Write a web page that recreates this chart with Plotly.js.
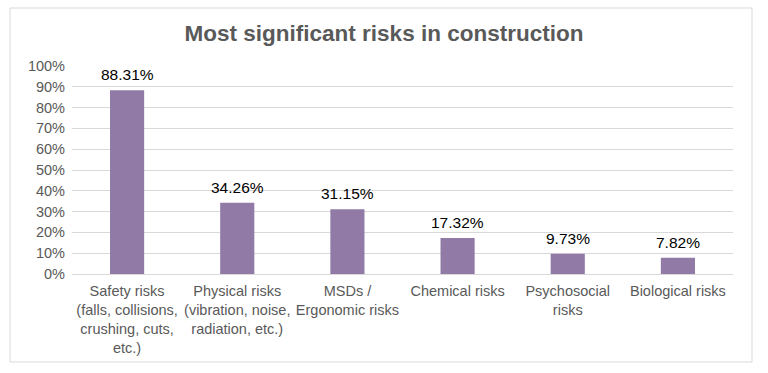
<!DOCTYPE html>
<html>
<head>
<meta charset="utf-8">
<script src="https://cdn.plot.ly/plotly-3.0.1.min.js"></script>
<style>html,body{margin:0;padding:0;background:#fff;}#chart{width:768px;height:373px;}</style>
</head>
<body>
<div id="chart"></div>
<script>
const categories = [
  "Safety risks<br>(falls, collisions,<br>crushing, cuts,<br>etc.)",
  "Physical risks<br>(vibration, noise,<br>radiation, etc.)",
  "MSDs /<br>Ergonomic risks",
  "Chemical risks",
  "Psychosocial<br>risks",
  "Biological risks"
];
const values = [0.8831, 0.3426, 0.3115, 0.1732, 0.0973, 0.0782];
const labels = ["88.31%", "34.26%", "31.15%", "17.32%", "9.73%", "7.82%"];
const yTicks = [0, 0.1, 0.2, 0.3, 0.4, 0.5, 0.6, 0.7, 0.8, 0.9, 1.0];
const yTickText = ["0%", "10%", "20%", "30%", "40%", "50%", "60%", "70%", "80%", "90%", "100%"];

const L = 72, R = 35, T = 66, B = 99, W = 768, H = 373;
const pw = W - L - R, ph = H - T - B;
const px = v => (v - L) / pw;
const py = v => (H - B - v) / ph;
const FONT = "Liberation Sans, Arial, sans-serif";

const trace = {
  type: "bar",
  x: categories,
  y: values,
  marker: {color: "#917BA6"},
  width: 0.31,
  hoverinfo: "none"
};

const annotations = categories.map((c, i) => ({
  x: c, y: values[i], xref: "x", yref: "y",
  text: labels[i], showarrow: false,
  yanchor: "bottom", yshift: 5,
  font: {family: FONT, size: 15.5, color: "#000000"}
}));

const layout = {
  width: W, height: H,
  margin: {l: L, r: R, t: T, b: B},
  paper_bgcolor: "#ffffff",
  plot_bgcolor: "#ffffff",
  showlegend: false,
  title: {
    text: "<b>Most significant risks in construction</b>",
    font: {family: FONT, size: 22.5, color: "#595959"},
    x: 0.5, xanchor: "center", y: 0.912, yanchor: "middle"
  },
  xaxis: {
    type: "category",
    tickfont: {family: FONT, size: 14.5, color: "#595959"},
    showline: true, linecolor: "#d9d9d9", linewidth: 1,
    ticks: "", showgrid: false, fixedrange: true,
    ticklabelstandoff: 4
  },
  yaxis: {
    range: [0, 1],
    tickvals: yTicks,
    ticktext: yTickText,
    tickfont: {family: FONT, size: 14.5, color: "#595959"},
    showgrid: true, gridcolor: "#d9d9d9", gridwidth: 1,
    zeroline: false, showline: false, ticks: "",
    ticklabelstandoff: 6,
    fixedrange: true
  },
  annotations: annotations,
  shapes: [{
    type: "rect", xref: "paper", yref: "paper",
    x0: px(10), x1: px(752), y0: py(362), y1: py(8),
    line: {color: "#d9d9d9", width: 1}, fillcolor: "rgba(0,0,0,0)", layer: "below"
  }]
};

Plotly.newPlot("chart", [trace], layout, {displayModeBar: false, staticPlot: true});
</script>
</body>
</html>
